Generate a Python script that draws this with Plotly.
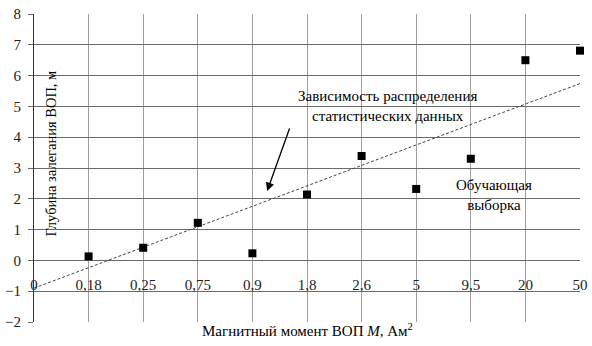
import plotly.graph_objects as go

# Magnetic moment categories (first "0" is the origin label only)
moment_labels = ["0", "0,18", "0,25", "0,75", "0,9", "1,8", "2,6", "5", "9,5", "20", "50"]
# Training sample: burial depth, m
sample_moments = ["0,18", "0,25", "0,75", "0,9", "1,8", "2,6", "5", "9,5", "20", "50"]
sample_depths = [0.13, 0.41, 1.22, 0.23, 2.14, 3.39, 2.32, 3.30, 6.50, 6.81]
# Statistical distribution line (end points)
trend_moments = ["0", "50"]
trend_depths = [-0.9, 5.74]

FONT = "Liberation Serif"

fig = go.Figure()
fig.add_trace(go.Scatter(
    x=trend_moments, y=trend_depths, mode="lines",
    line=dict(color="#444444", width=1, dash="3px,2px"),
    hoverinfo="skip", showlegend=False,
))
fig.add_trace(go.Scatter(
    x=sample_moments, y=sample_depths, mode="markers",
    marker=dict(symbol="square", size=8, color="black"),
    cliponaxis=False, showlegend=False,
))

fig.update_layout(
    width=592, height=346,
    margin=dict(l=34, r=12, t=14, b=24),
    paper_bgcolor="white", plot_bgcolor="white",
    font=dict(family=FONT, size=14, color="black"),
    xaxis=dict(
        type="category", categoryorder="array", categoryarray=moment_labels,
        range=[0, 10], anchor="free", position=0.2, automargin=False,
        showline=False, showgrid=True, gridcolor="#a0a0a0", gridwidth=1,
        ticks="outside", ticklen=11, tickcolor="rgba(0,0,0,0)",
        tickfont=dict(family=FONT, size=15, color="#222222"),
        zeroline=False, fixedrange=True,
    ),
    yaxis=dict(
        range=[-2, 8], dtick=1, showgrid=True, gridcolor="#6a6a6a", gridwidth=1,
        showline=True, linecolor="#333333", linewidth=1, automargin=False,
        ticks="outside", ticklen=5, tickcolor="#6a6a6a",
        ticklabelstandoff=4,
        tickfont=dict(family=FONT, size=15, color="#222222"),
        zeroline=False, fixedrange=True,
    ),
    annotations=[
        dict(text="Глубина залегания ВОП, м", textangle=-90,
             xref="paper", yref="y", x=0.031, y=3.47, xanchor="center",
             yanchor="middle", showarrow=False,
             font=dict(family=FONT, size=14.5)),
        dict(text="Магнитный момент ВОП <i>M</i>, Ам<sup>2</sup>",
             xref="paper", yref="paper", x=0.5, y=0, xanchor="center",
             yanchor="middle", yshift=-8, showarrow=False,
             font=dict(family=FONT, size=15)),
        dict(text="Зависимость распределения<br>статистических данных",
             xref="x", yref="y", x=6.47, y=5.01, showarrow=False,
             font=dict(family=FONT, size=15)),
        dict(text="Обучающая<br>выборка",
             xref="x", yref="y", x=8.42, y=2.11, showarrow=False,
             font=dict(family=FONT, size=15)),
        dict(text="", xref="x", yref="y", x=4.27, y=2.25,
             axref="x", ayref="y", ax=4.69, ay=4.33,
             showarrow=True, arrowhead=2, arrowsize=1.3, arrowwidth=1.3,
             arrowcolor="black"),
    ],
)

fig.write_html("out.html")
